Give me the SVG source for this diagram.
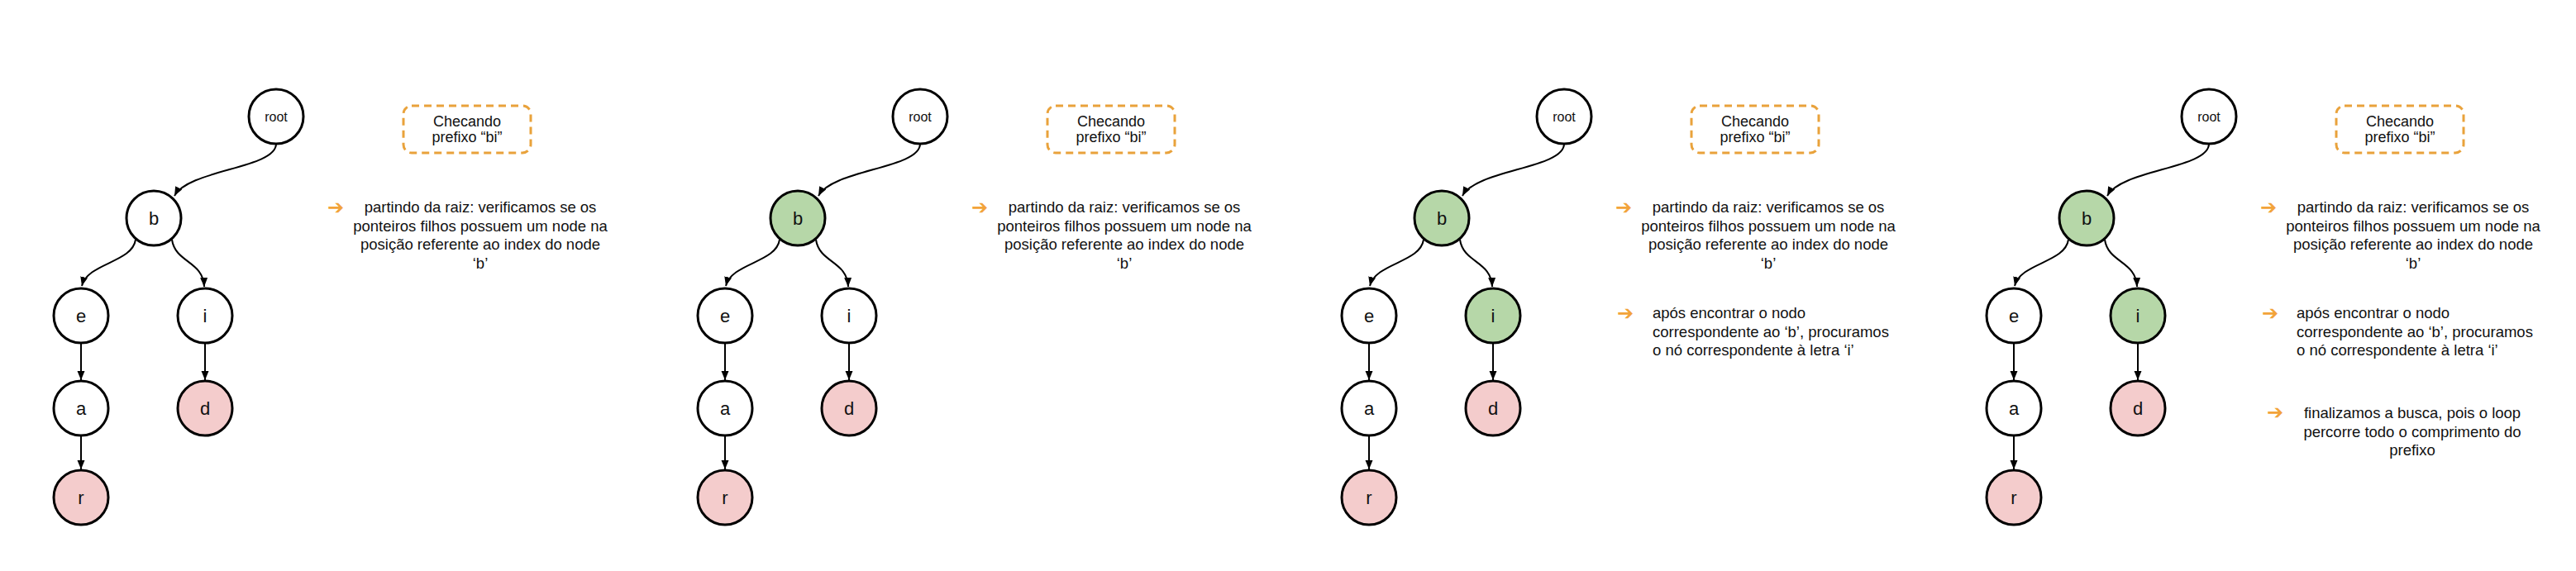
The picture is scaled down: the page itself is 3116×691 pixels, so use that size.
<svg xmlns="http://www.w3.org/2000/svg" width="3116" height="691" viewBox="0 0 3116 691">
<style>
.bg{fill:#ffffff}
.n{fill:#ffffff;stroke:#000;stroke-width:3}
.g{fill:#b6d7a8;stroke:#000;stroke-width:3}
.p{fill:#f4cccc;stroke:#000;stroke-width:3}
.lt{font-family:"Liberation Sans",Arial,sans-serif;font-size:22px;fill:#111;text-anchor:middle}
.rt{font-family:"Liberation Sans",Arial,sans-serif;font-size:16px;fill:#111;text-anchor:middle}
.e{fill:none;stroke:#000;stroke-width:2}
.box{fill:none;stroke:#e9a23b;stroke-width:3;stroke-dasharray:9 6}
.bt{font-family:"Liberation Sans",Arial,sans-serif;font-size:18px;fill:#111;text-anchor:middle}
.tx{font-family:"Liberation Sans",Arial,sans-serif;font-size:18.5px;fill:#111}
.c{text-anchor:middle}
.ar{font-family:"DejaVu Sans",sans-serif;font-size:24px;fill:#f2a33a}
</style>
<defs>
<marker id="ah" markerUnits="userSpaceOnUse" markerWidth="12" markerHeight="10" refX="11" refY="4.5" orient="auto">
<path d="M0,0 L11,4.5 L0,9 Z" fill="#000"/>
</marker>
<g id="edges">
<path class="e" d="M334,174 C334,204 228,205 211,237" marker-end="url(#ah)"/>
<path class="e" d="M164,290 C160,318 106,318 99,346" marker-end="url(#ah)"/>
<path class="e" d="M208,290 C212,318 246,316 247,347" marker-end="url(#ah)"/>
<path class="e" d="M98,416 L98,460" marker-end="url(#ah)"/>
<path class="e" d="M98,528 L98,568" marker-end="url(#ah)"/>
<path class="e" d="M248,416 L248,460" marker-end="url(#ah)"/>
</g>
</defs>
<rect class="bg" x="0" y="0" width="3116" height="691"/>

<g id="connectors">
<use href="#edges"/>
<use href="#edges" transform="translate(779,0)"/>
<use href="#edges" transform="translate(1558,0)"/>
<use href="#edges" transform="translate(2338,0)"/>
</g>

<!-- Panel 1 -->
<g id="p1-root"><circle class="n" cx="334" cy="141" r="33"/><text class="rt" x="334" y="147">root</text></g>
<g id="p1-b"><circle class="n" cx="186" cy="264" r="33"/><text class="lt" x="186" y="272">b</text></g>
<g id="p1-e"><circle class="n" cx="98" cy="382" r="33"/><text class="lt" x="98" y="390">e</text></g>
<g id="p1-i"><circle class="n" cx="248" cy="382" r="33"/><text class="lt" x="248" y="390">i</text></g>
<g id="p1-a"><circle class="n" cx="98" cy="494" r="33"/><text class="lt" x="98" y="502">a</text></g>
<g id="p1-d"><circle class="p" cx="248" cy="494" r="33"/><text class="lt" x="248" y="502">d</text></g>
<g id="p1-r"><circle class="p" cx="98" cy="602" r="33"/><text class="lt" x="98" y="610">r</text></g>
<g id="p1-title"><rect class="box" x="488" y="128" width="154" height="57" rx="10"/><text class="bt" x="565" y="153">Checando</text><text class="bt" x="565" y="172">prefixo “bi”</text></g>
<g id="p1-step1"><text class="ar" x="396" y="259">➔</text><text class="tx c" x="581" y="257">partindo da raiz: verificamos se os</text><text class="tx c" x="581" y="279.5">ponteiros filhos possuem um node na</text><text class="tx c" x="581" y="302">posição referente ao index do node</text><text class="tx c" x="581" y="324.5">‘b’</text></g>

<!-- Panel 2 -->
<g id="p2-root"><circle class="n" cx="1113" cy="141" r="33"/><text class="rt" x="1113" y="147">root</text></g>
<g id="p2-b"><circle class="g" cx="965" cy="264" r="33"/><text class="lt" x="965" y="272">b</text></g>
<g id="p2-e"><circle class="n" cx="877" cy="382" r="33"/><text class="lt" x="877" y="390">e</text></g>
<g id="p2-i"><circle class="n" cx="1027" cy="382" r="33"/><text class="lt" x="1027" y="390">i</text></g>
<g id="p2-a"><circle class="n" cx="877" cy="494" r="33"/><text class="lt" x="877" y="502">a</text></g>
<g id="p2-d"><circle class="p" cx="1027" cy="494" r="33"/><text class="lt" x="1027" y="502">d</text></g>
<g id="p2-r"><circle class="p" cx="877" cy="602" r="33"/><text class="lt" x="877" y="610">r</text></g>
<g id="p2-title"><rect class="box" x="1267" y="128" width="154" height="57" rx="10"/><text class="bt" x="1344" y="153">Checando</text><text class="bt" x="1344" y="172">prefixo “bi”</text></g>
<g id="p2-step1"><text class="ar" x="1175" y="259">➔</text><text class="tx c" x="1360" y="257">partindo da raiz: verificamos se os</text><text class="tx c" x="1360" y="279.5">ponteiros filhos possuem um node na</text><text class="tx c" x="1360" y="302">posição referente ao index do node</text><text class="tx c" x="1360" y="324.5">‘b’</text></g>

<!-- Panel 3 -->
<g id="p3-root"><circle class="n" cx="1892" cy="141" r="33"/><text class="rt" x="1892" y="147">root</text></g>
<g id="p3-b"><circle class="g" cx="1744" cy="264" r="33"/><text class="lt" x="1744" y="272">b</text></g>
<g id="p3-e"><circle class="n" cx="1656" cy="382" r="33"/><text class="lt" x="1656" y="390">e</text></g>
<g id="p3-i"><circle class="g" cx="1806" cy="382" r="33"/><text class="lt" x="1806" y="390">i</text></g>
<g id="p3-a"><circle class="n" cx="1656" cy="494" r="33"/><text class="lt" x="1656" y="502">a</text></g>
<g id="p3-d"><circle class="p" cx="1806" cy="494" r="33"/><text class="lt" x="1806" y="502">d</text></g>
<g id="p3-r"><circle class="p" cx="1656" cy="602" r="33"/><text class="lt" x="1656" y="610">r</text></g>
<g id="p3-title"><rect class="box" x="2046" y="128" width="154" height="57" rx="10"/><text class="bt" x="2123" y="153">Checando</text><text class="bt" x="2123" y="172">prefixo “bi”</text></g>
<g id="p3-step1"><text class="ar" x="1954" y="259">➔</text><text class="tx c" x="2139" y="257">partindo da raiz: verificamos se os</text><text class="tx c" x="2139" y="279.5">ponteiros filhos possuem um node na</text><text class="tx c" x="2139" y="302">posição referente ao index do node</text><text class="tx c" x="2139" y="324.5">‘b’</text></g>
<g id="p3-step2"><text class="ar" x="1956" y="387">➔</text><text class="tx" x="1999" y="385">após encontrar o nodo</text><text class="tx" x="1999" y="407.5">correspondente ao ‘b’, procuramos</text><text class="tx" x="1999" y="430">o nó correspondente à letra ‘i’</text></g>

<!-- Panel 4 -->
<g id="p4-root"><circle class="n" cx="2672" cy="141" r="33"/><text class="rt" x="2672" y="147">root</text></g>
<g id="p4-b"><circle class="g" cx="2524" cy="264" r="33"/><text class="lt" x="2524" y="272">b</text></g>
<g id="p4-e"><circle class="n" cx="2436" cy="382" r="33"/><text class="lt" x="2436" y="390">e</text></g>
<g id="p4-i"><circle class="g" cx="2586" cy="382" r="33"/><text class="lt" x="2586" y="390">i</text></g>
<g id="p4-a"><circle class="n" cx="2436" cy="494" r="33"/><text class="lt" x="2436" y="502">a</text></g>
<g id="p4-d"><circle class="p" cx="2586" cy="494" r="33"/><text class="lt" x="2586" y="502">d</text></g>
<g id="p4-r"><circle class="p" cx="2436" cy="602" r="33"/><text class="lt" x="2436" y="610">r</text></g>
<g id="p4-title"><rect class="box" x="2826" y="128" width="154" height="57" rx="10"/><text class="bt" x="2903" y="153">Checando</text><text class="bt" x="2903" y="172">prefixo “bi”</text></g>
<g id="p4-step1"><text class="ar" x="2734" y="259">➔</text><text class="tx c" x="2919" y="257">partindo da raiz: verificamos se os</text><text class="tx c" x="2919" y="279.5">ponteiros filhos possuem um node na</text><text class="tx c" x="2919" y="302">posição referente ao index do node</text><text class="tx c" x="2919" y="324.5">‘b’</text></g>
<g id="p4-step2"><text class="ar" x="2736" y="387">➔</text><text class="tx" x="2778" y="385">após encontrar o nodo</text><text class="tx" x="2778" y="407.5">correspondente ao ‘b’, procuramos</text><text class="tx" x="2778" y="430">o nó correspondente à letra ‘i’</text></g>
<g id="p4-step3"><text class="ar" x="2742" y="507">➔</text><text class="tx c" x="2918" y="506">finalizamos a busca, pois o loop</text><text class="tx c" x="2918" y="528.5">percorre todo o comprimento do</text><text class="tx c" x="2918" y="551">prefixo</text></g>
</svg>
